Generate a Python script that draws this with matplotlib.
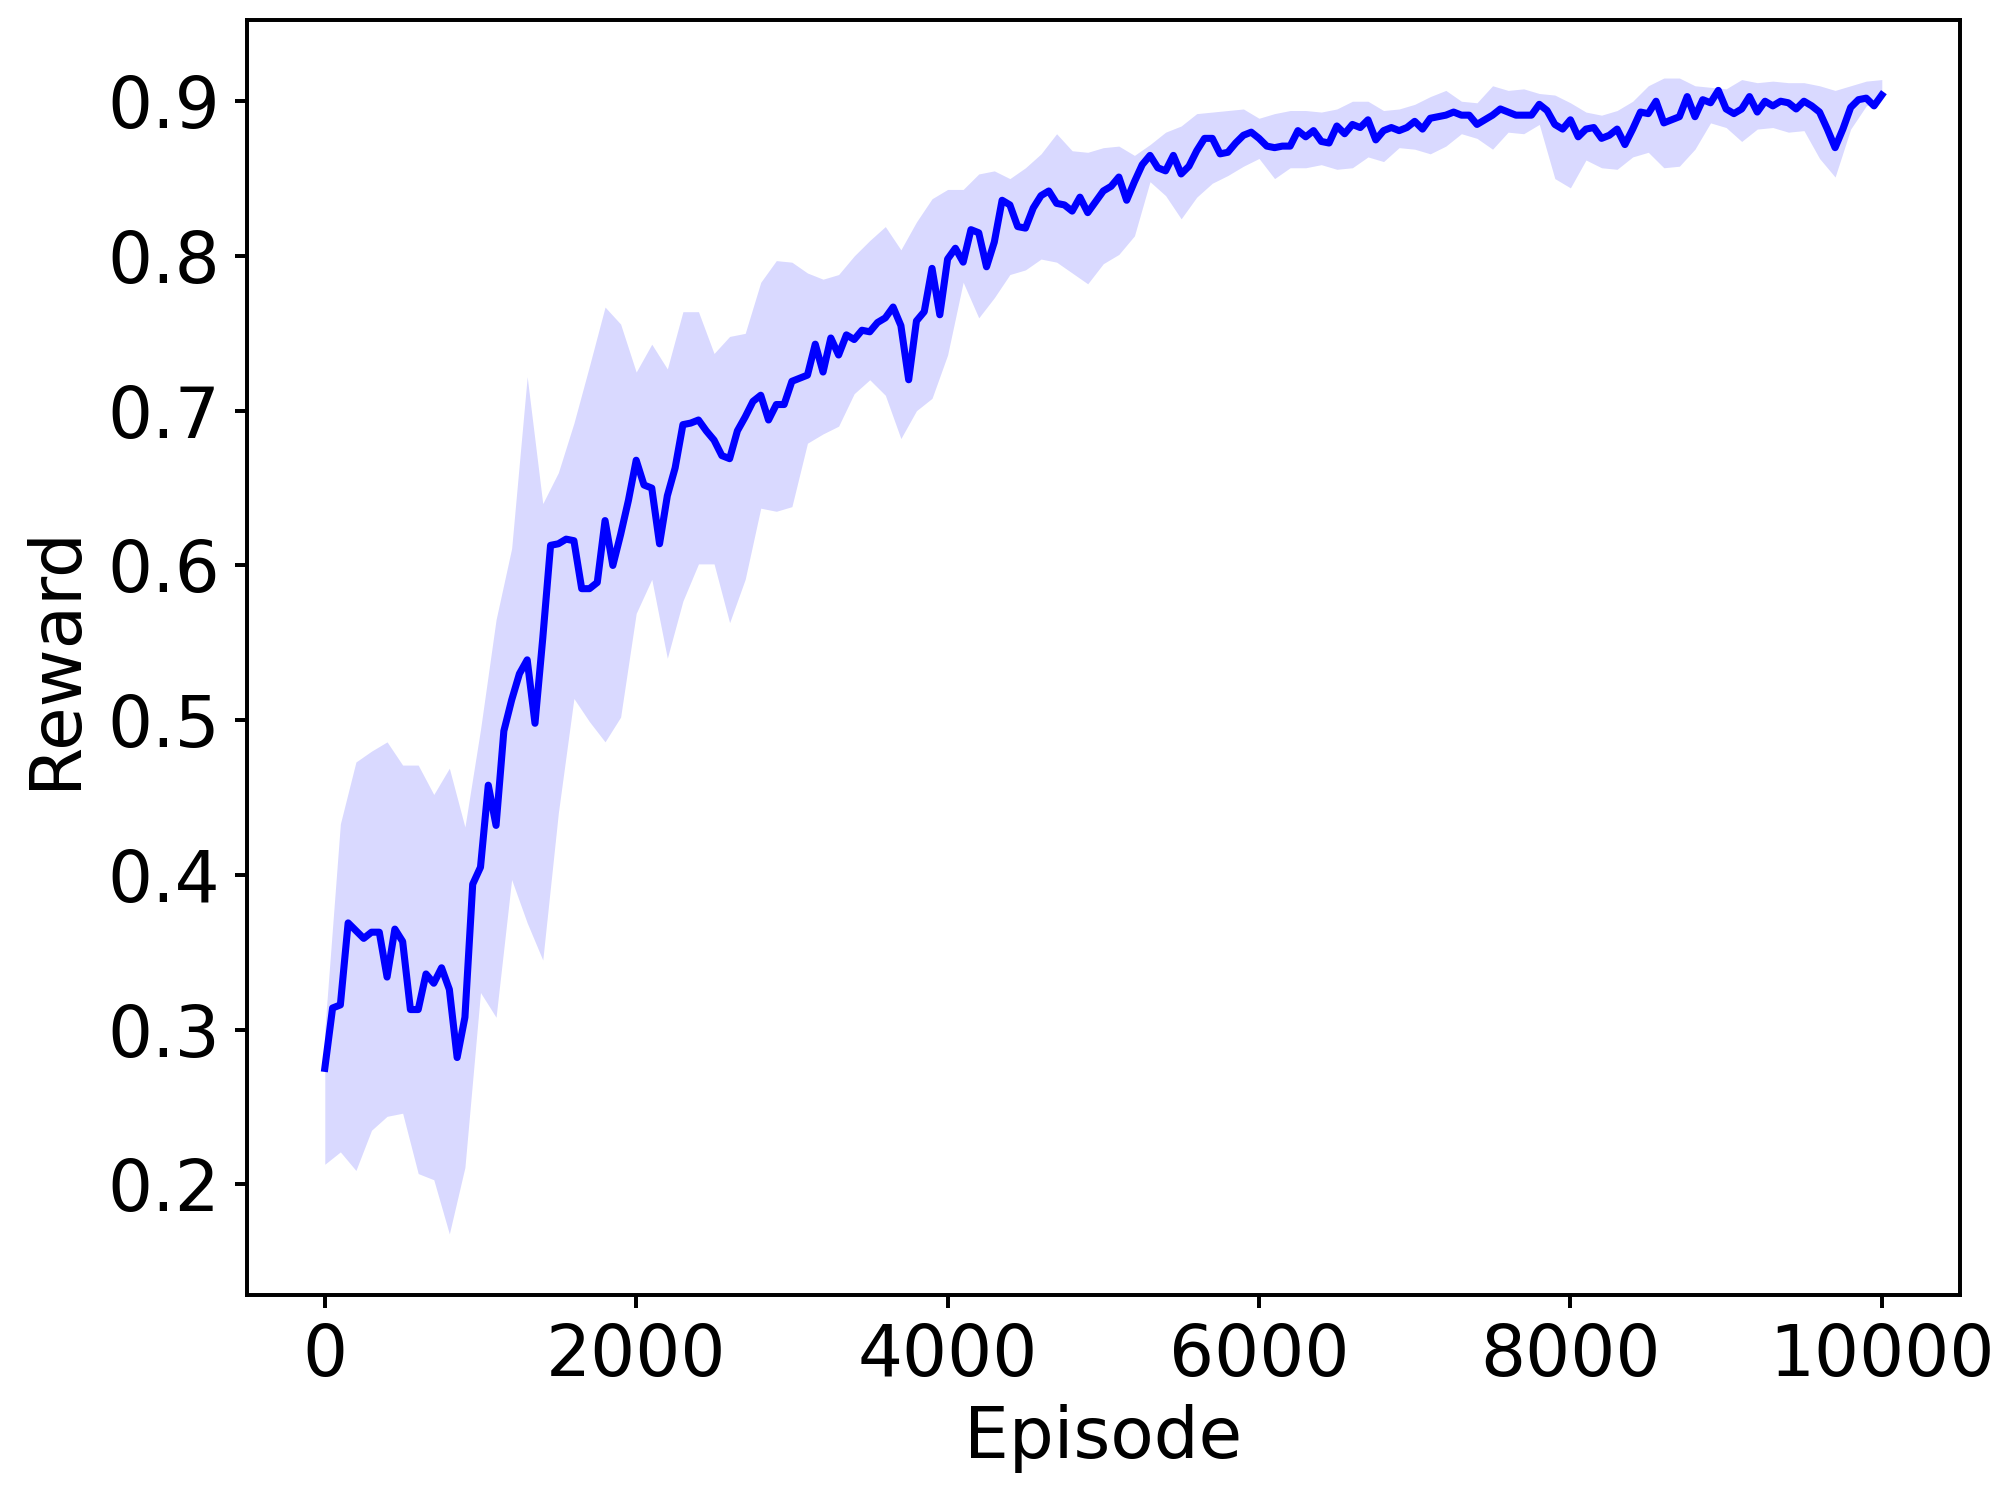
import matplotlib
matplotlib.use("Agg")
import matplotlib.pyplot as plt
import numpy as np

# mean reward, one value every 50 episodes (0 .. 10000)
mean_reward = [
    0.275, 0.314, 0.316, 0.369, 0.364, 0.359, 0.363, 0.363, 0.334, 0.365,
    0.357, 0.313, 0.313, 0.336, 0.330, 0.340, 0.326, 0.282, 0.308, 0.394,
    0.405, 0.458, 0.432, 0.493, 0.513, 0.530, 0.539, 0.498, 0.553, 0.613,
    0.614, 0.617, 0.616, 0.585, 0.585, 0.589, 0.629, 0.600, 0.620, 0.642,
    0.668, 0.652, 0.650, 0.614, 0.645, 0.663, 0.691, 0.692, 0.694, 0.687,
    0.681, 0.671, 0.669, 0.687, 0.696, 0.706, 0.710, 0.694, 0.704, 0.704,
    0.719, 0.721, 0.723, 0.743, 0.725, 0.747, 0.736, 0.749, 0.746, 0.752,
    0.751, 0.757, 0.760, 0.767, 0.755, 0.720, 0.758, 0.764, 0.792, 0.762,
    0.798, 0.805, 0.796, 0.817, 0.815, 0.793, 0.809, 0.836, 0.833, 0.819,
    0.818, 0.831, 0.839, 0.842, 0.834, 0.833, 0.829, 0.838, 0.828, 0.835,
    0.842, 0.845, 0.851, 0.836, 0.848, 0.859, 0.865, 0.857, 0.855, 0.865,
    0.853, 0.858, 0.868, 0.876, 0.876, 0.866, 0.867, 0.873, 0.878, 0.880,
    0.876, 0.871, 0.870, 0.871, 0.871, 0.881, 0.877, 0.881, 0.874, 0.873,
    0.884, 0.879, 0.885, 0.883, 0.888, 0.875, 0.881, 0.883, 0.881, 0.883,
    0.887, 0.882, 0.889, 0.890, 0.891, 0.893, 0.891, 0.891, 0.885, 0.888,
    0.891, 0.895, 0.893, 0.891, 0.891, 0.891, 0.898, 0.894, 0.885, 0.882,
    0.888, 0.877, 0.882, 0.883, 0.876, 0.878, 0.882, 0.872, 0.882, 0.893,
    0.892, 0.900, 0.886, 0.888, 0.890, 0.903, 0.890, 0.901, 0.899, 0.907,
    0.895, 0.892, 0.895, 0.903, 0.893, 0.900, 0.897, 0.900, 0.899, 0.895,
    0.900, 0.897, 0.893, 0.882, 0.870, 0.882, 0.896, 0.901, 0.902, 0.897,
    0.904,
]

# band edges, one value every 100 episodes (0 .. 10000)
upper_band = [
    0.300, 0.433, 0.473, 0.480, 0.486, 0.471, 0.471, 0.452, 0.469, 0.431,
    0.494, 0.565, 0.611, 0.722, 0.640, 0.660, 0.692, 0.729, 0.767, 0.756,
    0.725, 0.743, 0.727, 0.764, 0.764, 0.737, 0.748, 0.750, 0.783, 0.797,
    0.796, 0.789, 0.785, 0.788, 0.800, 0.810, 0.819, 0.804, 0.822, 0.837,
    0.843, 0.843, 0.853, 0.855, 0.850, 0.857, 0.866, 0.879, 0.868, 0.867,
    0.870, 0.871, 0.865, 0.872, 0.880, 0.884, 0.892, 0.893, 0.894, 0.895,
    0.889, 0.892, 0.894, 0.894, 0.893, 0.895, 0.900, 0.900, 0.894, 0.895,
    0.898, 0.903, 0.907, 0.900, 0.899, 0.910, 0.907, 0.908, 0.905, 0.904,
    0.899, 0.893, 0.891, 0.894, 0.900, 0.910, 0.915, 0.915, 0.910, 0.909,
    0.908, 0.914, 0.912, 0.913, 0.912, 0.912, 0.910, 0.907, 0.910, 0.913,
    0.914,
]
lower_band = [
    0.213, 0.221, 0.209, 0.235, 0.244, 0.246, 0.207, 0.203, 0.168, 0.211,
    0.324, 0.308, 0.397, 0.369, 0.345, 0.440, 0.514, 0.499, 0.486, 0.502,
    0.569, 0.591, 0.540, 0.577, 0.601, 0.601, 0.563, 0.591, 0.637, 0.635,
    0.638, 0.679, 0.685, 0.690, 0.711, 0.720, 0.710, 0.682, 0.700, 0.708,
    0.736, 0.783, 0.760, 0.773, 0.788, 0.791, 0.798, 0.796, 0.789, 0.782,
    0.795, 0.801, 0.813, 0.848, 0.839, 0.824, 0.838, 0.847, 0.852, 0.858,
    0.863, 0.850, 0.857, 0.857, 0.859, 0.856, 0.857, 0.864, 0.861, 0.870,
    0.869, 0.866, 0.871, 0.879, 0.876, 0.869, 0.880, 0.879, 0.885, 0.850,
    0.844, 0.862, 0.857, 0.856, 0.864, 0.867, 0.857, 0.858, 0.869, 0.886,
    0.883, 0.874, 0.882, 0.883, 0.880, 0.881, 0.863, 0.851, 0.882, 0.897,
    0.902,
]

episodes = np.arange(len(mean_reward)) * 50
band_episodes = np.arange(len(upper_band)) * 100

fig = plt.figure(figsize=(2006 / 300, 1492 / 300), dpi=300)
ax = fig.add_subplot(111)
fig.subplots_adjust(left=0.1231, right=0.9769, top=0.9866, bottom=0.132)

ax.fill_between(band_episodes, lower_band, upper_band, color="blue", alpha=0.15, linewidth=0)
ax.plot(episodes, mean_reward, color="blue", linewidth=1.7)

ax.set_xlim(-500, 10500)
ax.set_ylim(0.1285, 0.9525)
ax.set_xticks([0, 2000, 4000, 6000, 8000, 10000])
ax.set_yticks([0.2, 0.3, 0.4, 0.5, 0.6, 0.7, 0.8, 0.9])

ax.set_xlabel("Episode", fontsize=17, labelpad=3)
ax.set_ylabel("Reward", fontsize=17)
ax.tick_params(labelsize=17, length=3, width=0.95)
for s in ax.spines.values():
    s.set_linewidth(0.95)

fig.savefig("out.png", dpi=300)
